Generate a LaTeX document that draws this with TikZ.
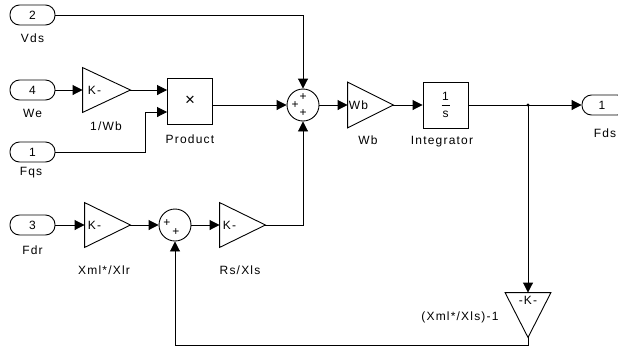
\documentclass[tikz,border=0pt]{standalone}
\usepackage{fontspec}
\setmainfont{Liberation Sans}[LetterSpace=10]
\usetikzlibrary{arrows.meta,calc}
\begin{document}
\begin{tikzpicture}[x=1pt,y=-1pt,line width=0.9pt,
  font=\fontsize{12}{13}\selectfont,
  port/.style={draw,rounded corners=9.5pt,minimum width=45pt,minimum height=20pt,inner sep=0pt},
  gainbox/.style={minimum width=45pt,minimum height=44pt,inner sep=0pt},
  blk/.style={draw,minimum width=45pt,minimum height=46pt,inner sep=0pt},
  sumc/.style={draw,circle,minimum size=32pt,inner sep=0pt},
  lbl/.style={inner sep=0pt},
  sgn/.style={inner sep=0pt,font=\fontsize{12}{12}\selectfont},
  sig/.style={-{Triangle[length=10pt,width=10pt]}}
]
\useasboundingbox (0,0) rectangle (618,349);

% inports
\node[port] (p2) at (32.5,15) {2};
\node[lbl] (p2l) at (32.5,38) {Vds};
\node[port] (p4) at (32.5,90) {4};
\node[lbl] (p4l) at (32.5,113) {We};
\node[port] (p1) at (32.5,152) {1};
\node[lbl] (p1l) at (31,173) {Fqs};
\node[port] (p3) at (32.5,225) {3};
\node[lbl] (p3l) at (32.5,250) {Fdr};

% gain 1/Wb
\node[gainbox,minimum width=47pt] (g1) at (106.5,90) {};
\draw (g1.north west) -- (g1.east) -- (g1.south west) -- cycle;
\node[lbl] (g1t) at ([xshift=12pt]g1.west) {K-};
\node[lbl] (g1l) at (106,126) {1/Wb};

% product
\node[blk] (prod) at (190,101) {\fontsize{17}{17}\selectfont ×};
\node[lbl] (prodl) at (190,139) {Product};
\coordinate (prodin2) at ($(prod.west)+(0,11)$);
\coordinate (prodout) at ($(prod.east)+(0,4)$);
\coordinate (bend1) at (145,152);

% sum 1
\node[sumc] (s1) at (303,105) {};
\node[sgn] (s1a) at (303,97.5) {+};
\node[sgn] (s1b) at (295,105.5) {+};
\node[sgn] (s1c) at (303,113) {+};

% gain Wb
\node[gainbox,minimum height=45pt] (g2) at (370.5,105) {};
\draw (g2.north west) -- (g2.east) -- (g2.south west) -- cycle;
\node[lbl] (g2t) at ([xshift=11pt]g2.west) {Wb};
\node[lbl] (g2l) at (368,140) {Wb};

% integrator
\node[blk] (integ) at (445.5,105) {};
\node[lbl] (integn) at (445.5,96.5) {1};
\draw[line width=0.8pt] ([xshift=-4pt]integ.center) -- ([xshift=4pt]integ.center);
\node[lbl] (integd) at (445.5,114) {s};
\node[lbl] (integl) at (442,142) {Integrator};

% branch and outport
\coordinate (br) at (528,105);
\node[port] (fds) at (604.5,105) {};
\node[lbl] (fdsn) at (602,105) {1};
\node[lbl] (fdsl) at (605,133) {Fds};

% feedback gain
\node[gainbox] (g5) at (528,315) {};
\draw (g5.north west) -- (g5.north east) -- (g5.south) -- cycle;
\node[lbl] (g5t) at (528,300) {-K-};
\node[lbl,anchor=east] (g5l) at (499,317) {(Xml*/Xls)-1};

% bottom row
\node[gainbox] (g3) at (107.5,225) {};
\draw (g3.north west) -- (g3.east) -- (g3.south west) -- cycle;
\node[lbl] (g3t) at ([xshift=10pt]g3.west) {K-};
\node[lbl] (g3l) at (104,270) {Xml*/Xlr};

\node[sumc] (s2) at (175,225) {};
\node[sgn] (s2a) at (167,223) {+};
\node[sgn] (s2b) at (176,232) {+};

\node[gainbox] (g4) at (242.5,225) {};
\draw (g4.north west) -- (g4.east) -- (g4.south west) -- cycle;
\node[lbl] (g4t) at ([xshift=10pt]g4.west) {K-};
\node[lbl] (g4l) at (240,270) {Rs/Xls};

% connectors
\draw[sig] (p2.east) -| (s1.north);
\draw[sig] (p4.east) -- (g1.west);
\draw[sig] (g1.east) -- (g1.east -| prod.west);
\draw[sig] (p1.east) -- (bend1) |- (prodin2);
\draw[sig] (prodout) -- (s1.west);
\draw[sig] (s1.east) -- (g2.west);
\draw[sig] (g2.east) -- (integ.west);
\draw (integ.east) -- (br);
\draw[sig] (br) -- (fds.west);
\fill (br) circle (1.6pt);
\draw[sig] (br) -- (g5.north);
\draw[sig] (g5.south) -- ++(0,8) -| (s2.south);
\draw[sig] (p3.east) -- (g3.west);
\draw[sig] (g3.east) -- (s2.west);
\draw[sig] (s2.east) -- (g4.west);
\draw[sig] (g4.east) -| (s1.south);
\end{tikzpicture}
\end{document}
